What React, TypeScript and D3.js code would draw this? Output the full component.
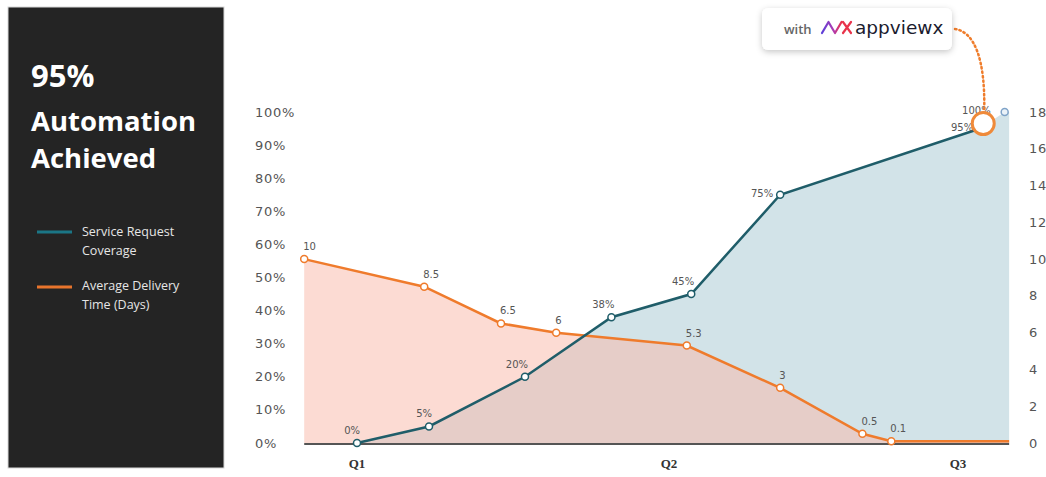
import React from 'react';
import * as d3 from 'd3';

// ---- data ----
const quarterLabels = ['Q1', 'Q2', 'Q3'];
const quarterWeeks = [0, 13, 26];

const coverageWeeks = [0, 3, 7, 10.6, 14, 18, 27, 28.1];
const coverageValues = [0, 5, 20, 38, 45, 75, 95, 100];
const coverageLabels = ['0%', '5%', '20%', '38%', '45%', '75%', '95%', '100%'];

const deliveryWeeks = [-2.2, 2.8, 6, 8.3, 13.8, 18, 21.7, 23, 28.3];
const deliveryValues = [10, 8.5, 6.5, 6, 5.3, 3, 0.5, 0.1, 0.1];
const deliveryLabels = ['10', '8.5', '6.5', '6', '5.3', '3', '0.5', '0.1', ''];

const leftTicks = [0, 10, 20, 30, 40, 50, 60, 70, 80, 90, 100];
const rightTicks = [0, 2, 4, 6, 8, 10, 12, 14, 16, 18];

const titleLines = ['95%', 'Automation', 'Achieved'];
const legendItems = [
  { lines: ['Service Request', 'Coverage'], color: '#1b7686' },
  { lines: ['Average Delivery', 'Time (Days)'], color: '#e8742c' },
];

const TEAL = '#1f5d69';
const ORANGE = '#ef7b2c';
const AXIS_FONT = '"DejaVu Sans", sans-serif';

export default function App() {
  const W = 1046, H = 477;
  const x = d3.scaleLinear().domain(quarterWeeks).range([357, 669, 958]);
  const yL = d3.scaleLinear().domain([0, 100]).range([443, 112]);
  const yR = d3.scaleLinear().domain([0, 18]).range([443, 112]);
  const base = 443;
  const xLeft = x(deliveryWeeks[0]);
  const xRight = x(deliveryWeeks[deliveryWeeks.length - 1]);

  const cov = coverageWeeks.map((w, i) => ({ w, v: coverageValues[i], l: coverageLabels[i] }));
  const del = deliveryWeeks.map((w, i) => ({ w, v: deliveryValues[i], l: deliveryLabels[i] }));

  const covArea = d3.area<any>().x(d => x(d.w)).y0(base).y1(d => yL(d.v))(
    [...cov, { w: deliveryWeeks[deliveryWeeks.length - 1], v: coverageValues[coverageValues.length - 1] }]) || '';
  const covLine = d3.line<any>().x(d => x(d.w)).y(d => yL(d.v))(cov.slice(0, 7)) || '';
  const delArea = d3.area<any>().x(d => x(d.w)).y0(base).y1(d => yR(d.v))(del) || '';
  const delLine = d3.line<any>().x(d => x(d.w)).y(d => yR(d.v))(del) || '';

  const hx = x(coverageWeeks[6]) + 3;
  const hy = yL(coverageValues[6]) - 5;

  const titleY = [87, 131, 168];
  const titleSize = [31, 27.5, 27.5];

  return (
    <svg width={W} height={H} style={{ position: 'absolute', left: 0, top: 0, background: '#fff' }}>
      <defs>
        <filter id="shadow" x="-20%" y="-40%" width="140%" height="200%">
          <feDropShadow dx="0" dy="2" stdDeviation="3" floodColor="#000" floodOpacity="0.22" />
        </filter>
        <linearGradient id="logoGrad" x1="0" x2="1" y1="0" y2="0">
          <stop offset="0" stopColor="#5b3fd9" />
          <stop offset="0.6" stopColor="#b03bb0" />
          <stop offset="1" stopColor="#e8334a" />
        </linearGradient>
      </defs>

      {/* left dark panel */}
      <rect x={8} y={7} width={216} height={461} fill="#242424" stroke="#d8d8d8" strokeWidth={1} />
      {titleLines.map((t, i) => (
        <text key={t} x={31} y={titleY[i]} fill="#fff" fontFamily='"Open Sans", sans-serif'
          fontWeight={700} fontSize={titleSize[i]}>{t}</text>
      ))}
      {legendItems.map((it, i) => (
        <g key={i}>
          <line x1={37} x2={72} y1={232 + i * 55} y2={232 + i * 55} stroke={it.color} strokeWidth={3} />
          {it.lines.map((ln, j) => (
            <text key={j} x={82} y={236 + i * 54 + j * 19} fill="#e6e6e6"
              fontFamily='"Open Sans", sans-serif' fontSize={12.5}>{ln}</text>
          ))}
        </g>
      ))}

      {/* areas */}
      <path d={covArea} fill="#d2e3e8" />
      <path d={delArea} fill="#f9b8a7" fillOpacity={0.5} />

      {/* baseline */}
      <line x1={xLeft} x2={xRight} y1={base + 1} y2={base + 1} stroke="#555" strokeWidth={2} />

      {/* axes labels */}
      {leftTicks.map(t => (
        <text key={t} x={255} y={yL(t)} dy="0.35em" fill="#555" fontFamily={AXIS_FONT}
          fontSize={13} letterSpacing={0.7}>{t}%</text>
      ))}
      {rightTicks.map(t => (
        <text key={t} x={1029} y={yR(t)} dy="0.35em" fill="#555" fontFamily={AXIS_FONT}
          fontSize={13} letterSpacing={0.7}>{t}</text>
      ))}
      {quarterLabels.map((q, i) => (
        <text key={q} x={x(quarterWeeks[i])} y={468} textAnchor="middle" fill="#333"
          fontFamily='"Liberation Serif", serif' fontWeight={700} fontSize={13}>{q}</text>
      ))}

      {/* lines */}
      <path d={delLine} fill="none" stroke={ORANGE} strokeWidth={2.5} />
      <path d={covLine} fill="none" stroke={TEAL} strokeWidth={2.5} />

      {/* markers */}
      {del.filter(d => d.l).map((d, i) => (
        <circle key={i} cx={x(d.w)} cy={yR(d.v)} r={3.5} fill="#fff" stroke={ORANGE} strokeWidth={1.5} />
      ))}
      {cov.map((d, i) => (
        <circle key={i} cx={x(d.w)} cy={yL(d.v)} r={3.5} fill={i === 7 ? '#eaf2f8' : '#fff'}
          stroke={i === 7 ? '#7fa3c8' : TEAL} strokeWidth={1.5} />
      ))}

      {/* data labels */}
      {del.filter(d => d.l).map((d, i) => (
        <text key={i} x={x(d.w) - 1} y={yR(d.v) - 9} fill="#555" fontFamily={AXIS_FONT}
          fontSize={10}>{d.l}</text>
      ))}
      {cov.map((d, i) => {
        const left = d.v >= 70;
        return (
          <text key={i} x={x(d.w) + (left ? (i === 7 ? -14 : -7) : 3)} y={yL(d.v) + (left ? 2 : -9)}
            textAnchor="end" fill="#555" fontFamily={AXIS_FONT} fontSize={10}>{d.l}</text>
        );
      })}

      {/* highlight */}
      <path d={`M955,29 C975,32 ${hx + 2},60 ${hx + 1},${hy - 13}`} fill="none" stroke="#ef7d2c"
        strokeWidth={2.5} strokeDasharray="1.5,3" strokeLinecap="round" />
      <circle cx={hx} cy={hy} r={11} fill="#fff" stroke="#ef8a3a" strokeWidth={3} />

      {/* badge */}
      <rect x={762} y={8} width={190} height={42} rx={6} fill="#fff" filter="url(#shadow)" />
      <text x={784} y={34} fill="#666" fontFamily='"Open Sans", sans-serif' fontWeight={600}
        fontSize={13}>with</text>
      <path d="M822,33 L828.5,22 L835,33 L841.5,22" fill="none" stroke="url(#logoGrad)"
        strokeWidth={2.2} strokeLinejoin="round" strokeLinecap="round" />
      <path d="M843,22 L851,33 M851,22 L843,33" fill="none" stroke="#e8334a" strokeWidth={2.2}
        strokeLinecap="round" />
      <text x={855} y={34} fill="#1b1b2e" fontFamily='"DejaVu Sans", sans-serif' fontSize={18.5}>appviewx</text>
    </svg>
  );
}
